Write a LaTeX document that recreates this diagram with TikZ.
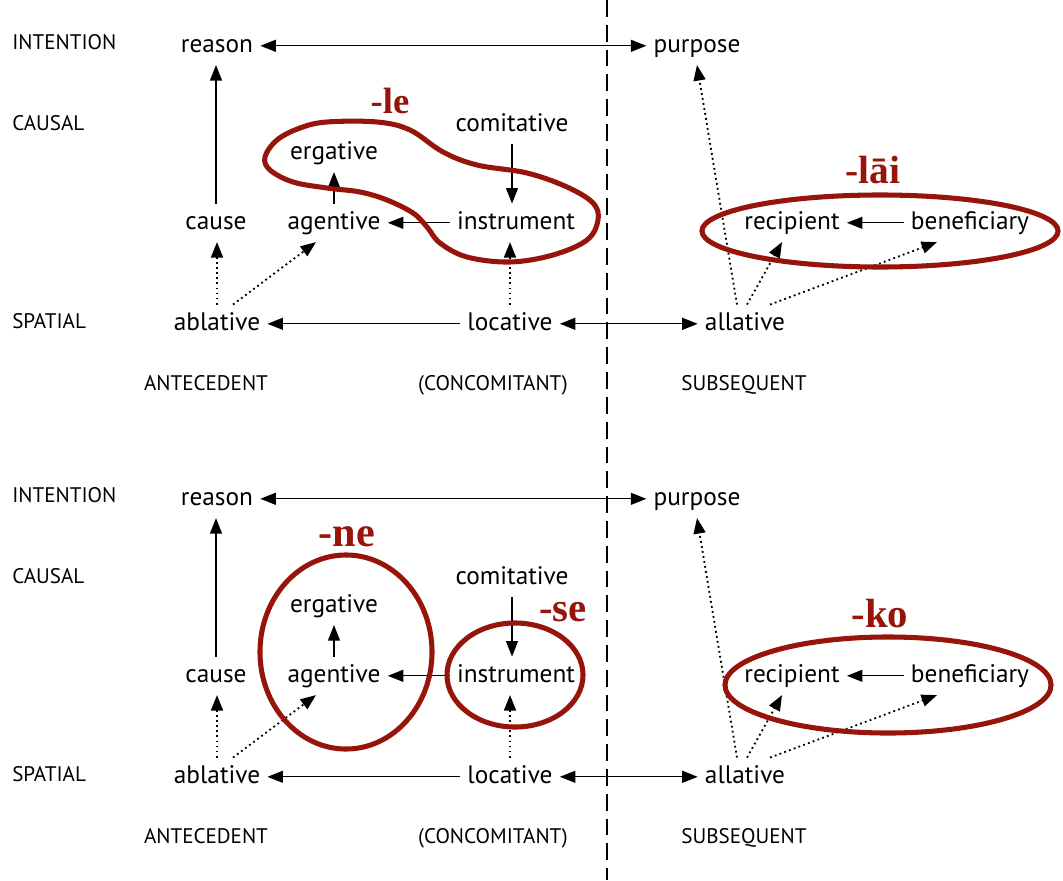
\documentclass[tikz,border=0pt]{standalone}
\usepackage{fontspec}
\setmainfont{PT Sans}
\newfontfamily\suffixfont{Liberation Serif}
\usetikzlibrary{arrows.meta,calc}
\definecolor{casered}{RGB}{150,20,10}

\begin{document}
\begin{tikzpicture}[
    x=0.025cm, y=-0.025cm,
    role/.style={font=\fontsize{18}{20}\selectfont, inner sep=5pt, text height=13pt, text depth=4pt, yshift=-2pt},
    level/.style={font=\fontsize{15}{17}\selectfont, anchor=west, inner sep=0pt, text height=11pt, text depth=2pt},
    side/.style={font=\fontsize{15}{17}\selectfont, inner sep=0pt, text height=11pt, text depth=2pt},
    link/.style={-{Triangle[length=11pt,width=8.5pt]}, line width=0.9pt},
    both/.style={{Triangle[length=11pt,width=8.5pt]}-{Triangle[length=11pt,width=8.5pt]}, line width=0.9pt},
    weak/.style={-{Triangle[length=11pt,width=8.5pt]}, line width=1.3pt, dash pattern=on 1.3pt off 2.3pt},
    ring/.style={draw=casered, line width=3.6pt},
    suffix/.style={text=casered, inner sep=0pt, font=\suffixfont\bfseries\fontsize{#1}{#1}\selectfont},
    suffix/.default=28
  ]
  \useasboundingbox (0,0) rectangle (1063,880);

  % divider between antecedent and subsequent
  \coordinate (divtop) at (607,0);
  \coordinate (divbot) at (607,880);
  \draw[line width=1.4pt, dash pattern=on 0.42cm off 0.2cm] (divtop) -- (divbot);

  % upper panel
  \node[level] (int1) at (12,43) {INTENTION};
  \node[level] (cau1) at (12,124) {CAUSAL};
  \node[level] (spa1) at (12,322) {SPATIAL};
  \node[role] (reason1) at (217,43) {reason};
  \node[role] (purpose1) at (697,43) {purpose};
  \node[role] (comit1) at (512,122) {comitative};
  \node[role] (erg1) at (334,150) {ergative};
  \node[role] (cause1) at (216,220) {cause};
  \node[role] (agent1) at (334,220) {agentive};
  \node[role] (instr1) at (516,220) {instrument};
  \node[role] (recip1) at (792,220) {recipient};
  \node[role] (benef1) at (970,220) {beneficiary};
  \node[role] (abl1) at (217,321) {ablative};
  \node[role] (loc1) at (510,321) {locative};
  \node[role] (all1) at (745,321) {allative};
  \node[side] (ante1) at (206,384) {ANTECEDENT};
  \node[side] (conc1) at (493,384) {(CONCOMITANT)};
  \node[side] (subs1) at (744,384) {SUBSEQUENT};

  \draw[both] (reason1) -- (purpose1);
  \draw[link] (cause1.north) -- (cause1.north |- reason1.south);
  \draw[weak] (abl1.north) -- (abl1.north |- cause1.south);
  \draw[weak] ($(abl1.north)+(16,0)$) -- ($(agent1.south)+(-18,0)$);
  \draw[link] (agent1.north) -- (agent1.north |- erg1.south);
  \draw[link] (instr1) -- (agent1);
  \draw[link] (comit1.south) -- (comit1.south |- instr1.north);
  \draw[weak] (loc1.north) -- (loc1.north |- instr1.south);
  \draw[link] (loc1) -- (abl1);
  \draw[both] (loc1) -- (all1);
  \draw[weak] ($(all1.north)+(-8,0)$) -- (purpose1.south);
  \draw[weak] ($(all1.north)+(2,0)$) -- ($(recip1.south)+(-10,0)$);
  \draw[weak] ($(all1.north)+(25,0)$) -- ($(benef1.south)+(-33,0)$);
  \draw[link] (benef1) -- (recip1);

  \draw[ring] plot[smooth cycle, tension=0.6] coordinates {
    (265,157) (277,140) (300,128) (327,122) (377,122) (410,130) (443,152)
    (477,165) (527,173) (567,187) (593,203) (598,220) (587,240) (553,255)
    (510,262) (467,257) (440,243) (427,227) (413,213) (387,200) (360,192)
    (327,188) (293,182) (270,170)};
  \node[suffix=26] (le) at (390,101) {-le};
  \draw[ring] (880,231) ellipse [x radius=4.45cm, y radius=0.9cm];
  \node[suffix] (lai) at (873,170) {-lāi};

  % lower panel
  \node[level] (int2) at (12,496) {INTENTION};
  \node[level] (cau2) at (12,577) {CAUSAL};
  \node[level] (spa2) at (12,775) {SPATIAL};
  \node[role] (reason2) at (217,496) {reason};
  \node[role] (purpose2) at (697,496) {purpose};
  \node[role] (comit2) at (512,575) {comitative};
  \node[role] (erg2) at (334,603) {ergative};
  \node[role] (cause2) at (216,673) {cause};
  \node[role] (agent2) at (334,673) {agentive};
  \node[role] (instr2) at (516,673) {instrument};
  \node[role] (recip2) at (792,673) {recipient};
  \node[role] (benef2) at (970,673) {beneficiary};
  \node[role] (abl2) at (217,774) {ablative};
  \node[role] (loc2) at (510,774) {locative};
  \node[role] (all2) at (745,774) {allative};
  \node[side] (ante2) at (206,837) {ANTECEDENT};
  \node[side] (conc2) at (493,837) {(CONCOMITANT)};
  \node[side] (subs2) at (744,837) {SUBSEQUENT};

  \draw[both] (reason2) -- (purpose2);
  \draw[link] (cause2.north) -- (cause2.north |- reason2.south);
  \draw[weak] (abl2.north) -- (abl2.north |- cause2.south);
  \draw[weak] ($(abl2.north)+(16,0)$) -- ($(agent2.south)+(-18,0)$);
  \draw[link] (agent2.north) -- (agent2.north |- erg2.south);
  \draw[link] (instr2) -- (agent2);
  \draw[link] (comit2.south) -- (comit2.south |- instr2.north);
  \draw[weak] (loc2.north) -- (loc2.north |- instr2.south);
  \draw[link] (loc2) -- (abl2);
  \draw[both] (loc2) -- (all2);
  \draw[weak] ($(all2.north)+(-8,0)$) -- (purpose2.south);
  \draw[weak] ($(all2.north)+(2,0)$) -- ($(recip2.south)+(-10,0)$);
  \draw[weak] ($(all2.north)+(25,0)$) -- ($(benef2.south)+(-33,0)$);
  \draw[link] (benef2) -- (recip2);

  \draw[ring] (346,652) ellipse [x radius=2.15cm, y radius=2.425cm];
  \node[suffix=30] (ne) at (347,537) {-ne};
  \draw[ring] (515,675) ellipse [x radius=1.7cm, y radius=1.3cm];
  \node[suffix=29] (se) at (563,612) {-se};
  \draw[ring] (888,685) ellipse [x radius=4.075cm, y radius=1.2cm];
  \node[suffix=29] (ko) at (880,614) {-ko};
\end{tikzpicture}
\end{document}
